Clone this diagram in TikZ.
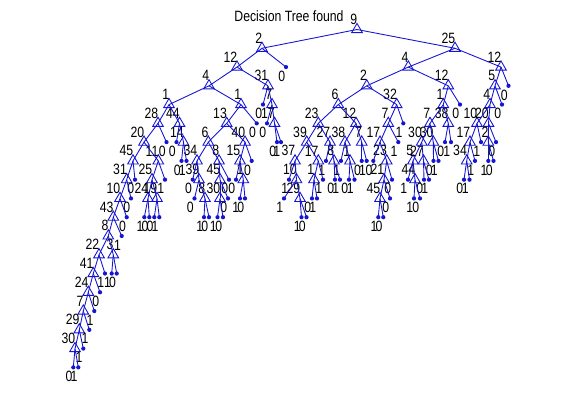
\documentclass[tikz,border=0pt]{standalone}
\usepackage{fontspec}
\setmainfont{Liberation Sans}
\newfontfamily\plotfont[FakeStretch=0.82]{Liberation Sans}
\usetikzlibrary{shapes.geometric}
\definecolor{treeblue}{RGB}{20,20,210}

\begin{document}
\begin{tikzpicture}[
    x=0.02cm, y=-0.02cm,
    every node/.style={font=\plotfont\fontsize{8.5}{9}\selectfont},
    split/.style={regular polygon, regular polygon sides=3, draw=treeblue, line width=0.5pt, inner sep=0pt, minimum size=7pt},
    leaf/.style={circle, fill=treeblue, inner sep=0pt, minimum size=2.4pt},
    num/.style={inner sep=0pt, text=black},
    edge/.style={draw=treeblue, line width=0.5pt}
]
\useasboundingbox (0,0) rectangle (561,414);

\node (title) at (289,16.5) {Decision Tree found};

% Split nodes (name/x/depth/feature)
\foreach \nm/\xx/\lv/\tx in {
    a0/357/0/9, a1/262/1/2, a2/455/1/25,
    b1/237/2/12, b2/209/3/4, b3/268/3/31, b4/169/4/1, b5/241/4/1,
    c1/158/5/28, c2/179.5/5/44, c3/144/6/20, c4/183.5/6/14, c5/133/7/45,
    c6/158.3/7/11, c7/152/8/25, c8/148/9/24, c9/157/9/19,
    c10/126.7/8/31, c11/120/9/10, c12/113.3/10/43, c13/108.3/11/8,
    c14/99/12/22, c15/113.3/12/3, c16/93.3/13/41, c17/88.3/14/24,
    c18/83.3/15/7, c19/79.3/16/29, c20/75/17/30,
    d1/226.7/5/13, d2/208.3/6/6, d3/245/6/40, d4/197/7/34, d5/219/7/8,
    d6/199/8/39, d7/205/9/8, d8/220/8/45, d9/220/9/30, d10/240/7/15,
    d11/243.3/8/1, e1/272/4/7, e2/274.5/5/17,
    f1/408.3/2/4, f2/501/2/12, f3/495/3/5, f4/490/4/4, f5/477/5/10,
    f6/488.5/5/20, f7/470/6/17, f8/488.3/6/2, f9/466.7/7/34,
    g1/366.7/3/2, g2/448.3/3/12, g3/443.3/4/1, g4/430/5/7, g5/448.3/5/38,
    h1/421.7/6/30, h2/433.3/6/30, h3/413/7/5, h4/423.5/7/27, h5/415/8/44,
    i1/338.3/4/6, i2/396.7/4/32, i3/388.3/5/7, i4/380/6/17, i5/386.7/7/23,
    i6/384/8/21, i7/380/9/45,
    j1/318.3/5/23, j2/356/5/12, j3/306.7/6/39, j4/330/6/27, j5/345/6/38,
    j6/361.7/6/7, j7/350/7/1, j8/334/7/8, j9/295/7/37, j10/318.3/7/17,
    j11/296.5/8/10, j12/300/9/29, j13/314/8/1} {
    \node[split] (\nm) at (\xx,{29.5+18.77*\lv}) {};
    \node[num, anchor=south east] (\nm-t) at ({\xx+0.5},{25+18.77*\lv}) {\tx};
}

% Leaves (name/x/depth/class)
\foreach \nm/\xx/\lv/\tx in {
    q1/286/2/0, q2/166.5/6/0, q3/176.5/6/0, q4/181.5/7/0, q5/186.5/7/1,
    q6/165/8/1, q7/144.3/10/1, q8/149.3/10/0, q9/154.3/10/0, q10/159.3/10/1,
    q11/135/8/0, q12/131/9/0, q13/126.7/10/0, q14/121.7/11/1,
    q15/111.7/13/1, q16/116.7/13/0, q17/105/13/1, q18/100/14/0,
    q19/94.3/15/1, q20/89.3/16/1, q21/83.3/17/1, q22/73.3/18/0, q23/78.3/18/1,
    q24/256.7/5/0, q25/192.7/8/0, q26/194.5/9/0, q27/204/10/1, q28/209/10/0,
    q29/229/8/0, q30/228/9/0, q31/217.5/10/1, q32/223/10/0, q33/251.7/7/0,
    q34/236/8/0, q35/240/9/1, q36/245/9/0, q37/263/4/0, q38/267/5/0,
    q39/277/6/0, q40/281/6/1,
    q41/508.5/3/0, q42/502/4/0, q43/481/6/1, q44/496/6/0, q45/475/7/1,
    q46/464/8/0, q47/469.5/8/1, q48/488.3/7/1, q49/493.5/7/0,
    q50/460/4/0, q51/445/6/0, q52/451/6/1, q53/408/8/1, q54/414/9/1,
    q55/420/9/0, q56/424/8/0, q57/429/8/1, q58/433.5/7/0, q59/438.5/7/1,
    q60/403.3/5/1, q61/398.3/6/1, q62/373.3/7/0, q63/392/8/0, q64/390/9/0,
    q65/378.3/10/1, q66/383.3/10/0,
    q67/361.7/7/0, q68/366.7/7/1, q69/341/7/1, q70/349/8/0, q71/354.5/8/1,
    q72/326/7/1, q73/335/8/0, q74/340/8/1, q75/289/8/1, q76/284/9/1,
    q77/301.5/10/1, q78/306.5/10/0, q79/312/9/0, q80/317/9/1, q81/323/8/1} {
    \node[leaf] (\nm) at (\xx,{29.5+18.77*\lv}) {};
    \node[num, anchor=north east] (\nm-t) at ({\xx-0.5},{33+18.77*\lv}) {\tx};
}

% Edges (parent/child)
\foreach \a/\b in {
    a0/a1, a0/a2, a1/b1, a1/q1, b1/b2, b1/b3, b2/b4, b2/b5,
    b4/c1, b4/c2, c1/c3, c1/q2, c2/q3, c2/c4, c4/q4, c4/q5, c3/c5, c3/c6,
    c6/c7, c6/q6, c7/c8, c7/c9, c8/q7, c8/q8, c9/q9, c9/q10,
    c5/c10, c5/q11, c10/c11, c10/q12, c11/c12, c11/q13, c12/c13, c12/q14,
    c13/c14, c13/c15, c15/q15, c15/q16, c14/c16, c14/q17, c16/c17, c16/q18,
    c17/c18, c17/q19, c18/c19, c18/q20, c19/c20, c19/q21, c20/q22, c20/q23,
    b5/d1, b5/q24, d1/d2, d1/d3, d2/d4, d2/d5, d4/q25, d4/d6, d6/q26, d6/d7,
    d7/q27, d7/q28, d5/d8, d5/q29, d8/d9, d8/q30, d9/q31, d9/q32,
    d3/d10, d3/q33, d10/q34, d10/d11, d11/q35, d11/q36,
    b3/q37, b3/e1, e1/q38, e1/e2, e2/q39, e2/q40,
    a2/f1, a2/f2, f2/f3, f2/q41, f3/f4, f3/q42, f4/f5, f4/f6, f5/f7, f5/q43,
    f6/f8, f6/q44, f7/f9, f7/q45, f9/q46, f9/q47, f8/q48, f8/q49,
    f1/g1, f1/g2, g2/g3, g2/q50, g3/g4, g3/g5, g5/q51, g5/q52, g4/h1, g4/h2,
    h1/h3, h1/h4, h3/q53, h3/h5, h5/q54, h5/q55, h4/q56, h4/q57, h2/q58, h2/q59,
    g1/i1, g1/i2, i2/i3, i2/q60, i3/i4, i3/q61, i4/q62, i4/i5, i5/i6, i5/q63,
    i6/i7, i6/q64, i7/q65, i7/q66,
    i1/j1, i1/j2, j2/j5, j2/j6, j6/q67, j6/q68, j5/q69, j5/j7, j7/q70, j7/q71,
    j1/j3, j1/j4, j4/q72, j4/j8, j8/q73, j8/q74, j3/j9, j3/j10, j9/q75, j9/j11,
    j11/q76, j11/j12, j12/q77, j12/q78, j10/j13, j10/q81, j13/q79, j13/q80} {
    \draw[edge] (\a.center) -- (\b.center);
}

\end{tikzpicture}
\end{document}
